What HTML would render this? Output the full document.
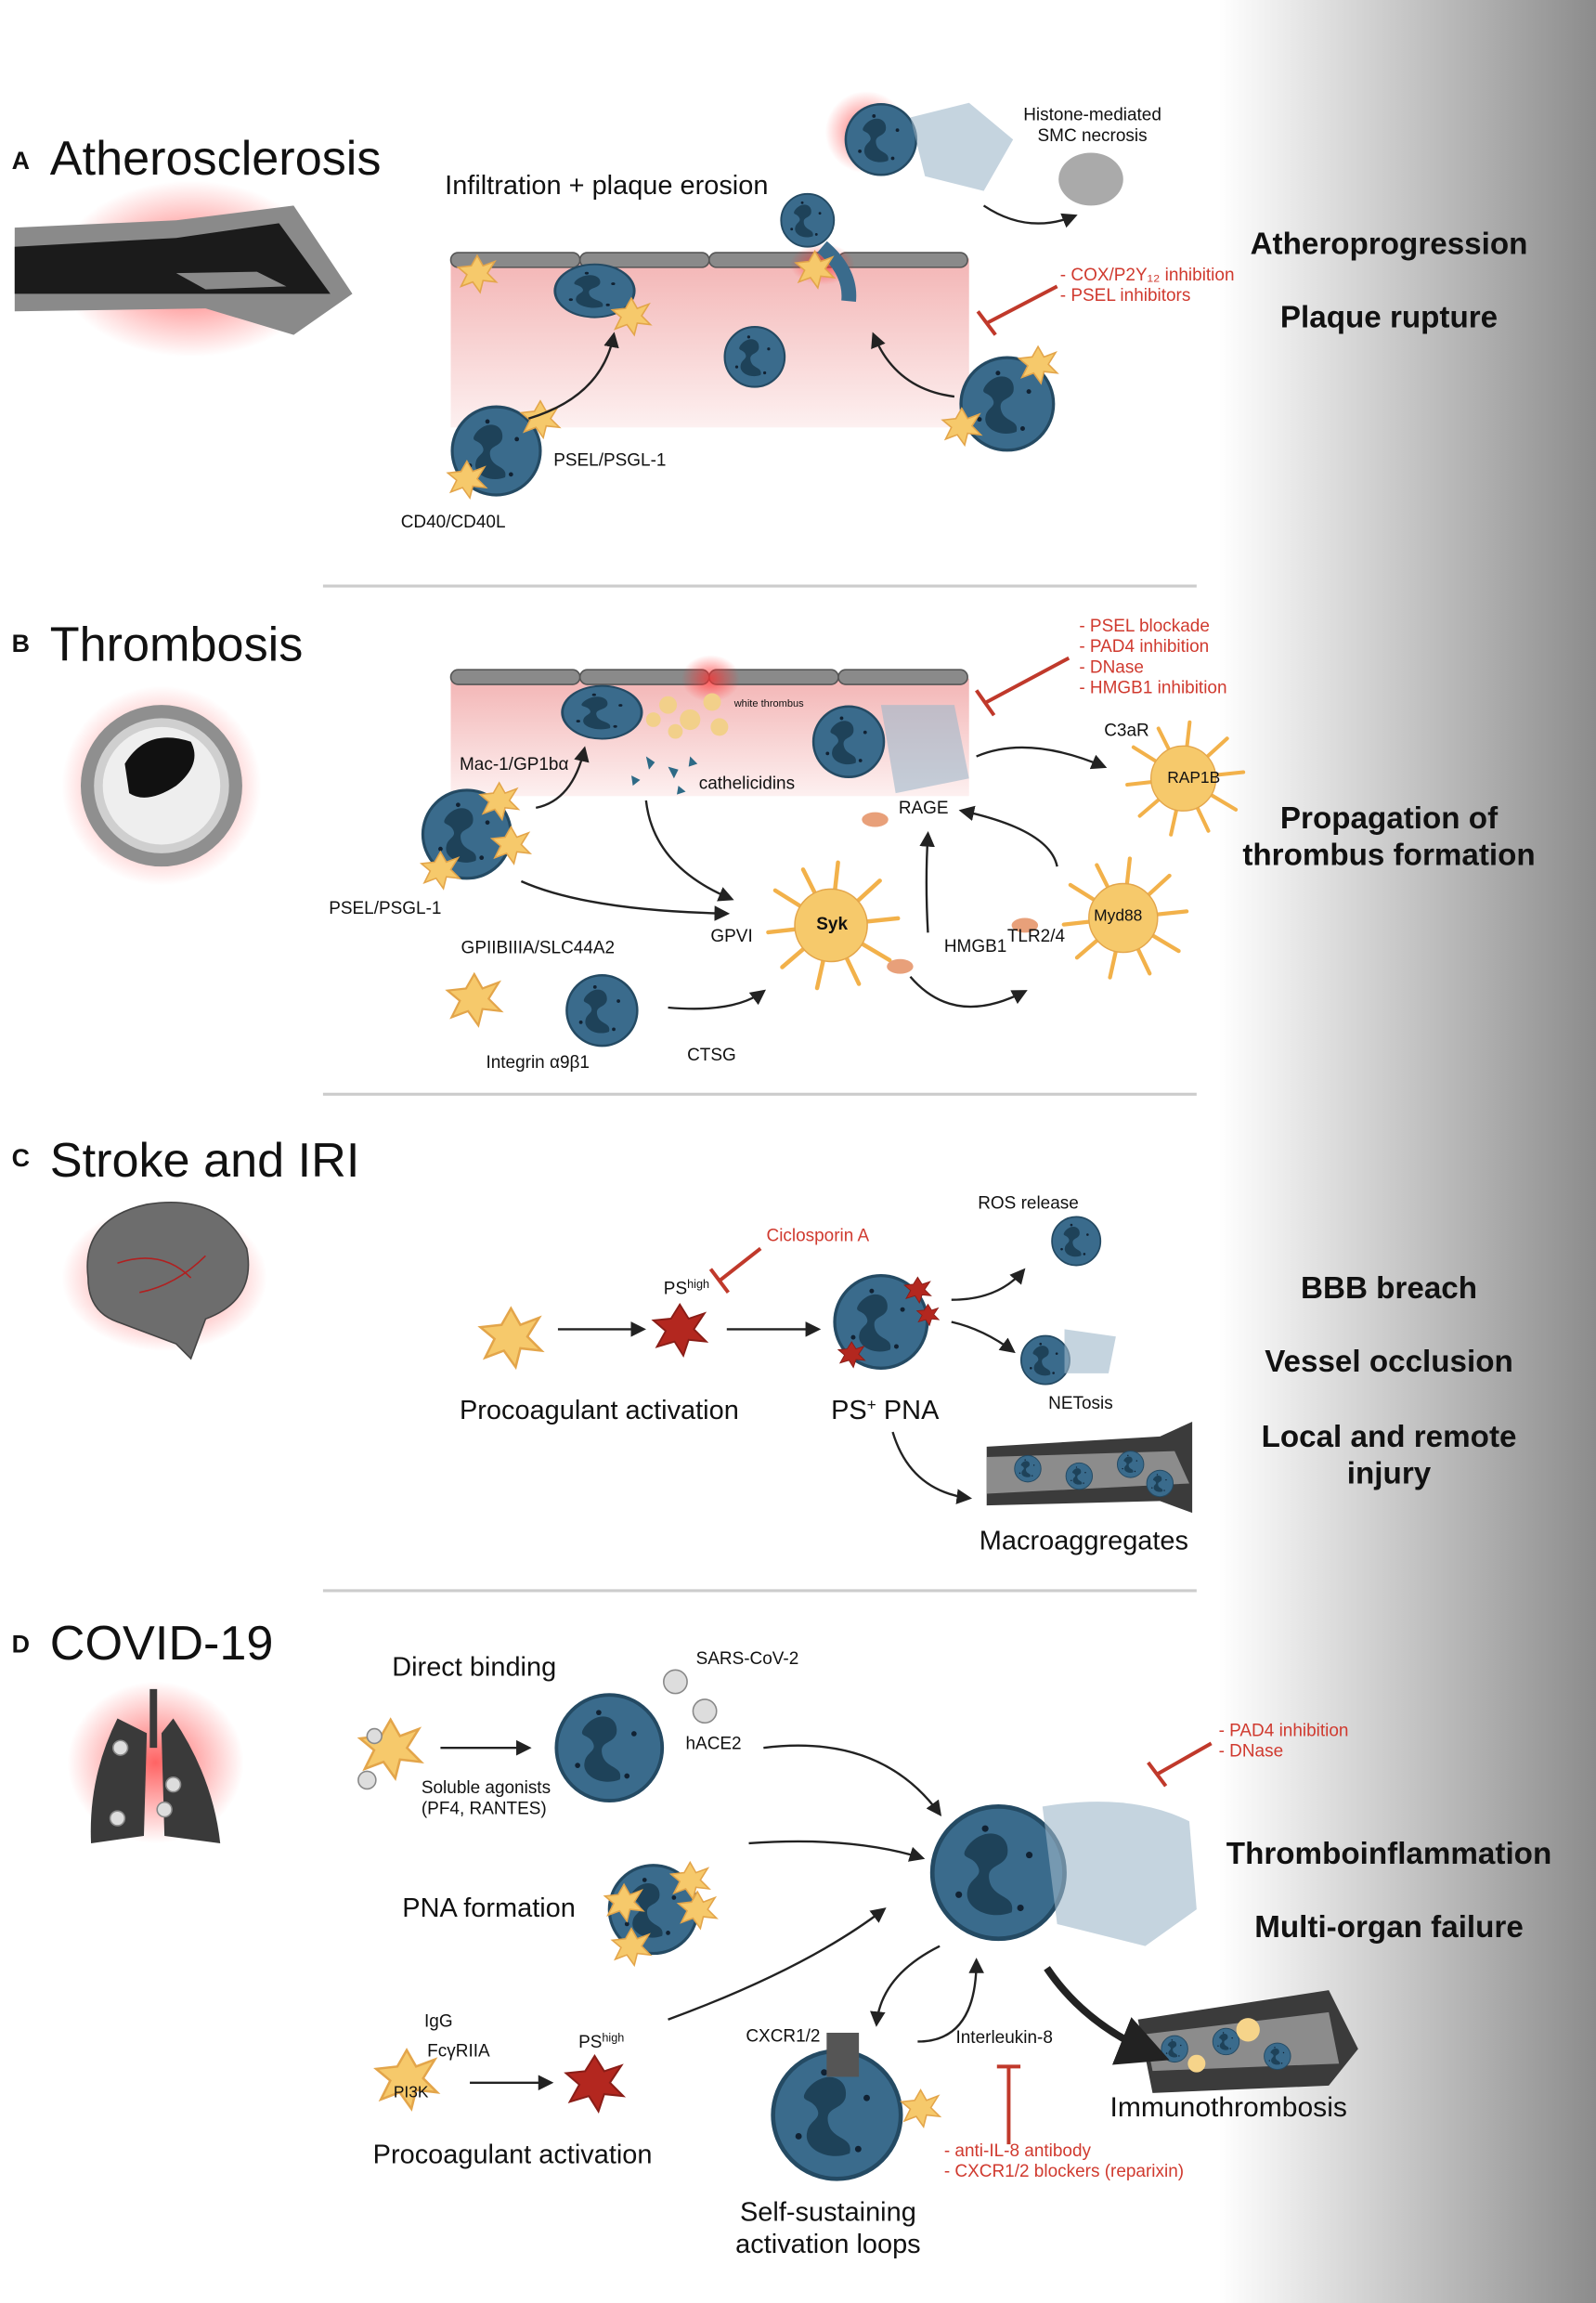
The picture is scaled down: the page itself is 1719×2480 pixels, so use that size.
<!DOCTYPE html>
<html><head><meta charset="utf-8"><style>
html,body{margin:0;padding:0;background:#fff}
svg{display:block}
text{font-family:"Liberation Sans",sans-serif;fill:#111}
.r{fill:#d03a2f;font-size:12px}
.s{font-size:12px}
.m{font-size:18.3px}
.h{font-size:33px}
.b{font-size:21px;font-weight:bold;text-anchor:middle}
</style></head><body>
<svg width="1719" height="2480" viewBox="0 0 1087 1568" preserveAspectRatio="none" xmlns="http://www.w3.org/2000/svg">
<defs>
<linearGradient id="gr" x1="0" x2="1" y1="0" y2="0"><stop offset="0" stop-color="#fff"/><stop offset="1" stop-color="#8c8c8c"/></linearGradient>
<linearGradient id="pk" x1="0" x2="0" y1="0" y2="1"><stop offset="0" stop-color="#f3b5b5"/><stop offset="1" stop-color="#fdf0f0"/></linearGradient>
<radialGradient id="glow"><stop offset="0" stop-color="#ff3030" stop-opacity=".75"/><stop offset="1" stop-color="#ff3030" stop-opacity="0"/></radialGradient>
<marker id="ar" viewBox="0 0 10 10" refX="8" refY="5" markerWidth="7" markerHeight="7" orient="auto"><path d="M0,0L10,5L0,10z" fill="#222"/></marker>
<g id="neu"><circle r="30" fill="#3a6b8c" stroke="#244a63" stroke-width="2"/><path d="M-14,-12c8,-10 20,-6 18,4c-2,6 -10,4 -8,12c2,8 12,6 10,14c-10,4 -22,-2 -20,-10c1,-6 8,-6 4,-12c-3,-4 -8,-2 -4,-8z" fill="#1e4259"/><circle cx="14" cy="-8" r="1.5" fill="#123"/><circle cx="-18" cy="10" r="1.5" fill="#123"/><circle cx="10" cy="16" r="1.5" fill="#123"/><circle cx="-6" cy="-20" r="1.5" fill="#123"/></g>
<g id="plt"><path d="M0,-12L4,-5L12,-8L7,0L13,6L4,5L2,13L-3,6L-11,9L-7,1L-13,-4L-4,-5z" fill="#f6c96b" stroke="#e3a54a" stroke-width="1"/></g>
<g id="pred"><path d="M0,-14L5,-6L14,-9L8,0L15,7L5,6L2,15L-3,7L-13,10L-8,1L-15,-5L-5,-6z" fill="#b3271f" stroke="#8a1d17"/></g>
<g id="act"><g stroke="#f2b14a" stroke-width="3" fill="none" stroke-linecap="round"><path d="M0,0L-40,-25M0,0L-45,5M0,0L-35,30M0,0L-10,45M0,0L20,42M0,0L42,25M0,0L48,-5M0,0L35,-32M0,0L5,-45M0,0L-20,-40"/></g><circle r="26" fill="#f6c96b" stroke="#e3a54a"/></g>
</defs>
<rect width="1087" height="1568" fill="#fff"/>
<rect x="830" width="257" height="1568" fill="url(#gr)"/>
<g stroke="#ccc" stroke-width="2"><line x1="220" y1="399" x2="815" y2="399"/><line x1="220" y1="745" x2="815" y2="745"/><line x1="220" y1="1083" x2="815" y2="1083"/></g>
<text x="946" y="173" class="b">Atheroprogression</text>
<text x="946" y="223" class="b">Plaque rupture</text>
<text x="946" y="564" class="b">Propagation of</text>
<text x="946" y="589" class="b">thrombus formation</text>
<text x="946" y="884" class="b">BBB breach</text>
<text x="946" y="934" class="b">Vessel occlusion</text>
<text x="946" y="985" class="b">Local and remote</text>
<text x="946" y="1010" class="b">injury</text>
<text x="946" y="1269" class="b">Thromboinflammation</text>
<text x="946" y="1319" class="b">Multi-organ failure</text>

<text x="8" y="115" font-size="17" font-weight="bold">A</text>
<text x="34" y="119" class="h">Atherosclerosis</text>
<ellipse cx="130" cy="183" rx="90" ry="60" fill="url(#glow)"/>
<path d="M10,155L120,150L200,140L240,200L200,228L140,210L10,212z" fill="#8a8a8a"/>
<path d="M10,168L120,162L190,152L225,200L150,200L10,200z" fill="#1b1b1b"/>
<path d="M120,186L175,185L195,195L140,197z" fill="#8a8a8a"/>
<rect x="307" y="176" width="353" height="115" fill="url(#pk)"/>
<g fill="#8a8a8a" stroke="#555"><rect x="307" y="172" width="88" height="10" rx="5"/><rect x="395" y="172" width="88" height="10" rx="5"/><rect x="483" y="172" width="88" height="10" rx="5"/><rect x="571" y="172" width="88" height="10" rx="5"/></g>
<ellipse cx="560" cy="180" rx="22" ry="14" fill="url(#glow)"/>
<ellipse cx="590" cy="90" rx="28" ry="28" fill="url(#glow)"/>
<use href="#neu" transform="translate(405,198) scale(0.9,0.6)"/>
<use href="#neu" transform="translate(514,243) scale(0.68)"/>
<use href="#neu" transform="translate(550,150) scale(0.6)"/>
<path d="M560,168Q580,185 578,205" stroke="#3a6b8c" stroke-width="10" fill="none"/>
<use href="#neu" transform="translate(600,95) scale(0.8)"/>
<path d="M620,80L660,70L690,95L670,130L630,120z" fill="#9fb7c9" opacity=".6"/>
<ellipse cx="743" cy="122" rx="22" ry="18" fill="#aaa"/>
<use href="#neu" transform="translate(338,307) scale(1)"/>
<use href="#neu" transform="translate(686,275) scale(1.05)"/>
<use href="#plt" transform="translate(325,186)"/><use href="#plt" transform="translate(430,215)"/><use href="#plt" transform="translate(368,285)"/><use href="#plt" transform="translate(318,326)"/><use href="#plt" transform="translate(707,248)"/><use href="#plt" transform="translate(655,290)"/><use href="#plt" transform="translate(555,183)"/>
<g stroke="#222" stroke-width="1.5" fill="none" marker-end="url(#ar)"><path d="M360,285Q410,270 418,228"/><path d="M650,270Q610,265 595,228"/><path d="M670,140Q700,160 732,147"/></g>
<path d="M720,195L672,220M666,212L678,228" stroke="#c0392b" stroke-width="2.5" fill="none"/>
<text x="303" y="132" class="m">Infiltration + plaque erosion</text>
<text x="744" y="82" class="s" text-anchor="middle">Histone-mediated</text>
<text x="744" y="96" class="s" text-anchor="middle">SMC necrosis</text>
<text x="722" y="191" class="r">- COX/P2Y₁₂ inhibition</text>
<text x="722" y="205" class="r">- PSEL inhibitors</text>
<text x="377" y="317" class="s">PSEL/PSGL-1</text>
<text x="273" y="359" class="s">CD40/CD40L</text>

<text x="8" y="444" font-size="17" font-weight="bold">B</text>
<text x="34" y="450" class="h">Thrombosis</text>
<circle cx="110" cy="535" r="68" fill="url(#glow)"/>
<circle cx="110" cy="535" r="55" fill="#8f8f8f"/>
<circle cx="110" cy="535" r="46" fill="#cfcfcf"/>
<circle cx="110" cy="535" r="40" fill="#eee"/>
<path d="M85,520Q100,495 130,505Q138,520 120,535Q100,548 88,540z" fill="#111"/>
<rect x="307" y="462" width="353" height="80" fill="url(#pk)"/>
<g fill="#8a8a8a" stroke="#555"><rect x="307" y="456" width="88" height="10" rx="5"/><rect x="395" y="456" width="88" height="10" rx="5"/><rect x="483" y="456" width="88" height="10" rx="5"/><rect x="571" y="456" width="88" height="10" rx="5"/></g>
<ellipse cx="484" cy="462" rx="20" ry="16" fill="url(#glow)"/>
<use href="#neu" transform="translate(410,485) scale(0.9,0.6)"/>
<use href="#neu" transform="translate(578,505) scale(0.8)"/>
<path d="M600,480L650,480L660,530L610,540z" fill="#9fb7c9" opacity=".6"/>
<g fill="#f2d08a"><circle cx="455" cy="480" r="6"/><circle cx="470" cy="490" r="7"/><circle cx="485" cy="478" r="6"/><circle cx="460" cy="498" r="5"/><circle cx="490" cy="495" r="6"/><circle cx="445" cy="490" r="5"/></g>
<g fill="#2e6a86"><path d="M440,515l6,4l-4,5z"/><path d="M455,522l7,2l-3,6z"/><path d="M430,528l6,3l-5,4z"/><path d="M470,515l5,5l-6,2z"/><path d="M462,535l5,4l-6,2z"/></g>
<use href="#neu" transform="translate(318,568) scale(1)"/>
<use href="#plt" transform="translate(340,545)"/><use href="#plt" transform="translate(348,575)"/><use href="#plt" transform="translate(300,592)"/>
<use href="#act" transform="translate(566,630) scale(0.95)"/>
<use href="#act" transform="translate(765,625) scale(0.9)"/>
<use href="#act" transform="translate(806,530) scale(0.85)"/>
<use href="#neu" transform="translate(410,688) scale(0.8)"/>
<use href="#plt" transform="translate(323,680) scale(1.4)"/>
<g fill="#e8a07a"><ellipse cx="596" cy="558" rx="9" ry="5"/><ellipse cx="613" cy="658" rx="9" ry="5"/><ellipse cx="698" cy="630" rx="9" ry="5"/></g>
<g fill="none" stroke="#222" stroke-width="1.5" marker-end="url(#ar)"><path d="M365,550Q390,545 398,510"/><path d="M440,545Q445,590 498,612"/><path d="M355,600Q400,620 495,622"/><path d="M455,686Q500,690 520,675"/><path d="M620,665Q650,700 698,675"/><path d="M632,635Q630,600 632,568"/><path d="M720,590Q715,565 655,552"/><path d="M665,515Q700,500 752,522"/></g>
<path d="M728,448L672,478M665,470L677,487" stroke="#c0392b" stroke-width="2.5" fill="none"/>
<text x="735" y="430" class="r">- PSEL blockade</text>
<text x="735" y="444" class="r">- PAD4 inhibition</text>
<text x="735" y="458" class="r">- DNase</text>
<text x="735" y="472" class="r">- HMGB1 inhibition</text>
<text x="500" y="481" font-size="7">white thrombus</text>
<text x="752" y="501" class="s">C3aR</text>
<text x="795" y="533" font-size="11">RAP1B</text>
<text x="313" y="524" class="s">Mac-1/GP1bα</text>
<text x="476" y="537" class="s">cathelicidins</text>
<text x="612" y="554" class="s">RAGE</text>
<text x="224" y="622" class="s">PSEL/PSGL-1</text>
<text x="484" y="641" class="s">GPVI</text>
<text x="556" y="633" class="s" font-weight="bold">Syk</text>
<text x="686" y="641" class="s">TLR2/4</text>
<text x="745" y="627" font-size="11">Myd88</text>
<text x="643" y="648" class="s">HMGB1</text>
<text x="314" y="649" class="s">GPIIBIIIA/SLC44A2</text>
<text x="331" y="727" class="s">Integrin α9β1</text>
<text x="468" y="722" class="s">CTSG</text>

<text x="8" y="794" font-size="17" font-weight="bold">C</text>
<text x="34" y="801" class="h">Stroke and IRI</text>
<ellipse cx="112" cy="870" rx="70" ry="50" fill="url(#glow)"/>
<path d="M60,870Q55,830 100,820Q150,812 168,850Q175,885 140,898L130,925L120,915L80,900Q60,893 60,870z" fill="#6d6d6d" stroke="#444"/>
<g stroke="#b02020" fill="none"><path d="M80,860Q110,850 130,870"/><path d="M95,880Q120,875 140,855"/></g>
<use href="#plt" transform="translate(348,910) scale(1.6)"/>
<use href="#pred" transform="translate(463,905) scale(1.2)"/>
<use href="#neu" transform="translate(600,900) scale(1.05)"/>
<use href="#pred" transform="translate(625,878) scale(.6)"/><use href="#pred" transform="translate(580,922) scale(.6)"/><use href="#pred" transform="translate(632,895) scale(.5)"/>
<use href="#neu" transform="translate(733,845) scale(.55)"/>
<use href="#neu" transform="translate(712,926) scale(.55)"/>
<path d="M725,905L760,910L755,935L725,935z" fill="#9fb7c9" opacity=".6"/>
<path d="M672,985L790,978L812,968L812,1030L790,1022L672,1025z" fill="#3b3b3b"/>
<path d="M672,992L800,988L810,1010L672,1017z" fill="#8c8c8c"/>
<g><use href="#neu" transform="translate(700,1000) scale(.3)"/><use href="#neu" transform="translate(735,1005) scale(.3)"/><use href="#neu" transform="translate(770,997) scale(.3)"/><use href="#neu" transform="translate(790,1010) scale(.3)"/></g>
<g fill="none" stroke="#222" stroke-width="1.5" marker-end="url(#ar)"><path d="M380,905L438,905"/><path d="M495,905L557,905"/><path d="M648,885Q680,885 697,865"/><path d="M648,900Q670,905 690,920"/><path d="M608,975Q620,1015 660,1020"/></g>
<path d="M518,850L490,872M484,864L496,880" stroke="#c0392b" stroke-width="2.5" fill="none"/>
<text x="522" y="845" class="r">Ciclosporin A</text>
<text x="666" y="823" class="s">ROS release</text>
<text x="452" y="881" class="s">PS<tspan font-size="8" dy="-4">high</tspan></text>
<text x="313" y="966" class="m">Procoagulant activation</text>
<text x="566" y="966" class="m">PS<tspan font-size="11" dy="-6">+</tspan><tspan dy="6"> PNA</tspan></text>
<text x="714" y="959" class="s">NETosis</text>
<text x="667" y="1055" class="m">Macroaggregates</text>

<text x="8" y="1125" font-size="17" font-weight="bold">D</text>
<text x="34" y="1130" class="h">COVID-19</text>
<ellipse cx="106" cy="1200" rx="60" ry="55" fill="url(#glow)"/>
<path d="M80,1170Q60,1210 62,1255L98,1250L100,1180z" fill="#3a3a3a"/>
<path d="M118,1170Q145,1210 150,1255L112,1250L110,1180z" fill="#3a3a3a"/>
<rect x="102" y="1150" width="5" height="40" fill="#3a3a3a"/>
<g fill="#ddd" stroke="#888"><circle cx="82" cy="1190" r="5"/><circle cx="118" cy="1215" r="5"/><circle cx="80" cy="1238" r="5"/><circle cx="112" cy="1232" r="5"/></g>
<use href="#plt" transform="translate(266,1190) scale(1.6)"/>
<g fill="#ddd" stroke="#888"><circle cx="250" cy="1212" r="6"/><circle cx="255" cy="1182" r="5"/><circle cx="460" cy="1145" r="8"/><circle cx="480" cy="1165" r="8"/></g>
<use href="#neu" transform="translate(415,1190) scale(1.2)"/>
<use href="#neu" transform="translate(445,1300) scale(1)"/>
<use href="#plt" transform="translate(470,1280)"/><use href="#plt" transform="translate(475,1300)"/><use href="#plt" transform="translate(430,1325)"/><use href="#plt" transform="translate(425,1295)"/>
<use href="#plt" transform="translate(277,1415) scale(1.6)"/>
<use href="#pred" transform="translate(405,1418) scale(1.3)"/>
<use href="#neu" transform="translate(570,1440) scale(1.45)"/>
<rect x="563" y="1384" width="22" height="30" fill="#555"/>
<use href="#plt" transform="translate(627,1435)"/>
<use href="#neu" transform="translate(680,1275) scale(1.5)"/>
<path d="M710,1230Q770,1220 810,1240L815,1300L780,1325L720,1310z" fill="#9fb7c9" opacity=".6"/>
<path d="M775,1375L905,1355L925,1395L905,1420L785,1425z" fill="#3b3b3b"/>
<path d="M780,1385L905,1370L912,1405L785,1410z" fill="#8c8c8c"/>
<g><use href="#neu" transform="translate(800,1395) scale(.3)"/><use href="#neu" transform="translate(835,1390) scale(.3)"/><use href="#neu" transform="translate(870,1400) scale(.3)"/><circle cx="850" cy="1382" r="8" fill="#f6d48a"/><circle cx="815" cy="1405" r="6" fill="#f6d48a"/></g>
<g fill="none" stroke="#222" stroke-width="1.5" marker-end="url(#ar)"><path d="M300,1190L360,1190"/><path d="M520,1190Q600,1180 640,1235"/><path d="M510,1255Q580,1250 628,1265"/><path d="M455,1375Q550,1340 602,1300"/><path d="M320,1418L375,1418"/><path d="M640,1325Q600,1345 597,1378"/><path d="M625,1390Q665,1390 665,1335"/></g>
<path d="M713,1340Q740,1380 790,1400" stroke="#222" stroke-width="5" fill="none" marker-end="url(#ar)"/>
<path d="M825,1187L788,1208M782,1200L794,1216" stroke="#c0392b" stroke-width="2.5" fill="none"/>
<path d="M687,1460L687,1407M679,1407L695,1407" stroke="#c0392b" stroke-width="2.5" fill="none"/>
<text x="267" y="1141" class="m">Direct binding</text>
<text x="474" y="1133" class="s">SARS-CoV-2</text>
<text x="467" y="1191" class="s">hACE2</text>
<text x="287" y="1221" class="s">Soluble agonists</text>
<text x="287" y="1235" class="s">(PF4, RANTES)</text>
<text x="830" y="1182" class="r">- PAD4 inhibition</text>
<text x="830" y="1196" class="r">- DNase</text>
<text x="274" y="1305" class="m">PNA formation</text>
<text x="289" y="1380" class="s">IgG</text>
<text x="291" y="1400" class="s">FcγRIIA</text>
<text x="268" y="1428" font-size="11">PI3K</text>
<text x="394" y="1394" class="s">PS<tspan font-size="8" dy="-4">high</tspan></text>
<text x="508" y="1390" class="s">CXCR1/2</text>
<text x="651" y="1391" class="s">Interleukin-8</text>
<text x="756" y="1441" font-size="19">Immunothrombosis</text>
<text x="254" y="1473" class="m">Procoagulant activation</text>
<text x="643" y="1468" class="r">- anti-IL-8 antibody</text>
<text x="643" y="1482" class="r">- CXCR1/2 blockers (reparixin)</text>
<text x="564" y="1512" class="m" text-anchor="middle">Self-sustaining</text>
<text x="564" y="1534" class="m" text-anchor="middle">activation loops</text>
</svg>
</body></html>
